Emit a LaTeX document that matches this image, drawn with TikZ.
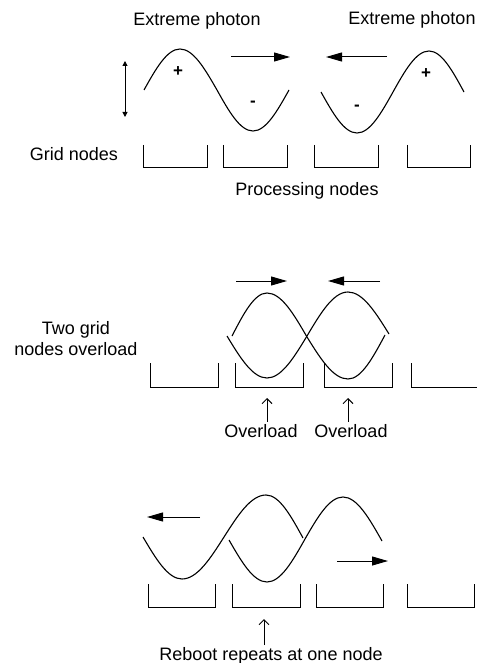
\documentclass[tikz,border=0pt]{standalone}
\usepackage{fontspec}
\setmainfont{Liberation Sans}
\usetikzlibrary{arrows.meta}
\begin{document}
\begin{tikzpicture}[x=1pt,y=-1pt,line width=1pt,
  lbl/.style={font=\fontsize{18}{21}\selectfont, inner sep=0pt},
  sign/.style={font=\fontsize{17}{20}\selectfont\bfseries, inner sep=0pt},
  wave/.style={line width=1.1pt},
  bigarrow/.style={line width=1pt,-{Triangle[length=16pt,width=9pt]}},
  uparrow/.style={line width=1pt,-{Straight Barb[length=5pt,width=10pt]}},
  dblarrow/.style={line width=1pt,{Triangle[length=5pt,width=5pt]}-{Triangle[length=5pt,width=5pt]}},
  gridbox/.style={line width=1pt}]
\useasboundingbox (0,0) rectangle (476,663);

% ---------- top row ----------
\node[lbl] (ep1) at (197,21) {Extreme photon};
\node[lbl] (ep2) at (412,20) {Extreme photon};
\coordinate (da1) at (125,61);
\coordinate (da2) at (125,117);
\draw[dblarrow] (da1) -- (da2);
\draw[wave] (144,90) sin (180,49) cos (217,90) sin (253,131) cos (289,90);
\draw[wave] (321,92) sin (357,133) cos (393,92) sin (429,51) cos (464,92);
\node[sign] (p1) at (178,72) {+};
\node[sign] (m1) at (253,104) {-};
\node[sign] (m2) at (357,108) {-};
\node[sign] (p2) at (426,74) {+};
\coordinate (ra1) at (231,57); \coordinate (ra2) at (290,57);
\draw[bigarrow] (ra1) -- (ra2);
\coordinate (la1) at (387,57); \coordinate (la2) at (326,57);
\draw[bigarrow] (la1) -- (la2);
\node[lbl] (gn) at (74,154) {Grid nodes};
\draw[gridbox] (143,145) |- (207,168) -- (207,145);
\draw[gridbox] (223,145) |- (287,168) -- (287,145);
\draw[gridbox] (314,145) |- (378,168) -- (378,145);
\draw[gridbox] (407,145) |- (470,168) -- (470,145);
\node[lbl] (pn) at (307,191) {Processing nodes};

% ---------- middle row ----------
\node[lbl,align=center] (tg) at (76,339) {Two grid\\nodes overload};
\coordinate (mr1) at (236,281); \coordinate (mr2) at (287,281);
\draw[bigarrow] (mr1) -- (mr2);
\coordinate (ml1) at (380,281); \coordinate (ml2) at (328,281);
\draw[bigarrow] (ml1) -- (ml2);
\draw[wave] (227,336) sin (267,378) cos (307,336) sin (348,292) cos (389,334);
\draw[wave] (232,336) sin (267,293) cos (307,337) sin (348,379) cos (385,335);
\draw[gridbox] (150,363) |- (218,387) -- (218,363);
\draw[gridbox] (235,363) |- (303,387) -- (303,363);
\draw[gridbox] (324,363) |- (392,387) -- (392,363);
\draw[gridbox] (411,363) |- (477,387);
\node[lbl] (ov1) at (261,431) {Overload};
\node[lbl] (ov2) at (351,431) {Overload};
\coordinate (ua1) at (267,398); \coordinate (ua2) at (348,398);
\draw[uparrow] (ov1.north -| ua1) ++(0,-2) -- (ua1);
\draw[uparrow] (ov2.north -| ua2) ++(0,-2) -- (ua2);

% ---------- bottom row ----------
\coordinate (bl1) at (200,517); \coordinate (bl2) at (147,517);
\draw[bigarrow] (bl1) -- (bl2);
\coordinate (br1) at (337,561); \coordinate (br2) at (388,561);
\draw[bigarrow] (br1) -- (br2);
\draw[wave] (143,537) sin (182,579) cos (224,537) sin (266,495) cos (303,538);
\draw[wave] (229,540) sin (267,582) cos (305,539) sin (343,497) cos (382,541);
\draw[gridbox] (148,584) |- (215,607) -- (215,584);
\draw[gridbox] (232,584) |- (300,607) -- (300,584);
\draw[gridbox] (316,584) |- (383,607) -- (383,584);
\draw[gridbox] (407,584) |- (474,607) -- (474,584);
\node[lbl] (rb) at (271,656) {Reboot repeats at one node};
\coordinate (ub) at (264,619);
\draw[uparrow] (rb.north -| ub) ++(0,-2) -- (ub);
\end{tikzpicture}
\end{document}
